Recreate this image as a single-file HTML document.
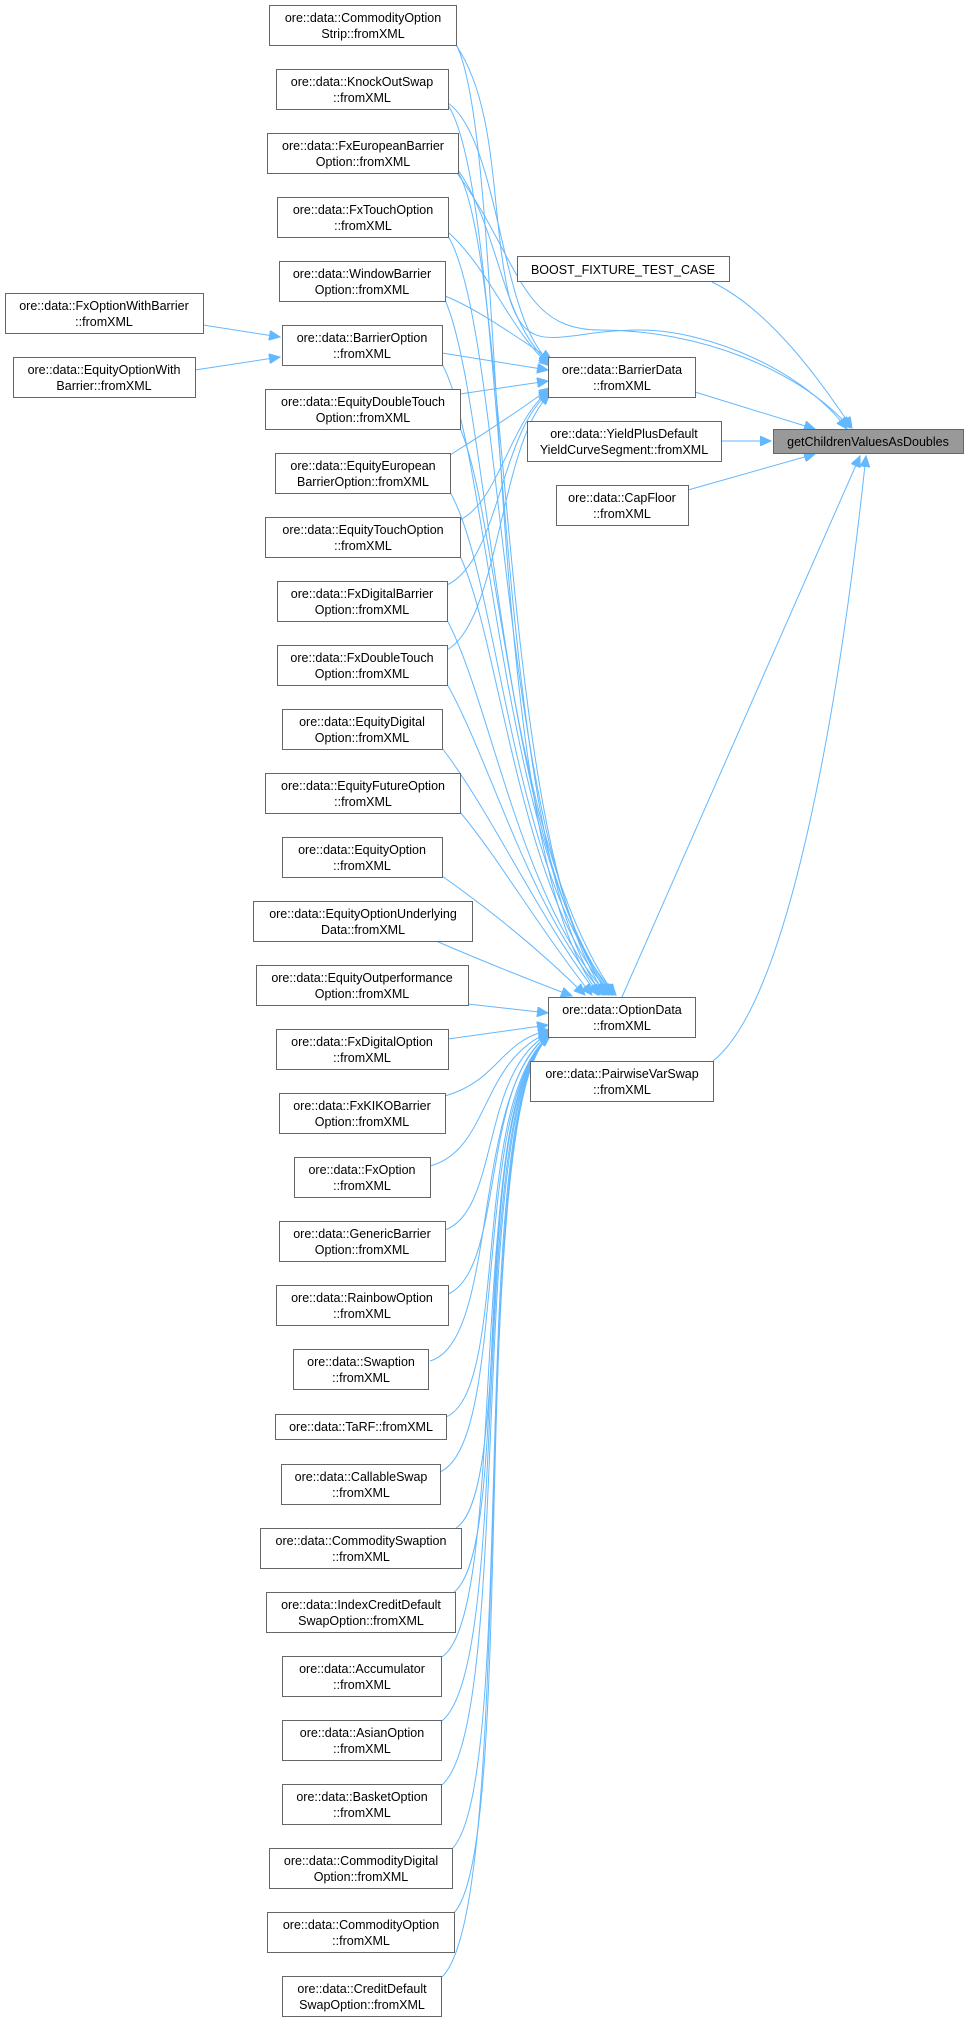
<!DOCTYPE html>
<html><head><meta charset="utf-8"><style>
html,body{margin:0;padding:0;background:#fff;}
svg{display:block;}
text{font-family:"Liberation Sans",Arial,sans-serif;font-size:12.5px;fill:#000;text-anchor:middle;}
.b{fill:#fff;stroke:#666;stroke-width:1;}
.e{fill:none;stroke:#63b8ff;stroke-width:1;}
</style></head><body>
<svg width="969" height="2021" viewBox="0 0 969 2021" xmlns="http://www.w3.org/2000/svg">
<defs><marker id="a" markerUnits="userSpaceOnUse" markerWidth="12" markerHeight="10" refX="11" refY="5" orient="auto"><path d="M0,0 L11,5 L0,10 z" fill="#63b8ff" stroke="#63b8ff"/></marker></defs>
<g class="e" marker-end="url(#a)">
<path d="M695,392 L815,429"/>
<path d="M721,441 L771,441"/>
<path d="M688,490 L815,454"/>
<path d="M622,997 L860,456"/>
<path d="M713,1061 C790,1000 840,700 866,456"/>
<path d="M712,282 C770,310 820,380 852,428"/>
<path d="M457,173 C520,260 520,330 600,330 C700,330 800,370 850,428"/>
<path d="M456,45 C500,110 490,220 510,300 C530,360 560,330 640,330 C710,330 805,372 847,429"/>
<path d="M203,325 L280,337"/>
<path d="M195,370 L280,357"/>
<path d="M448,103 C500,140 500,320 550,362"/>
<path d="M458,170 C500,230 500,320 550,364"/>
<path d="M448,232 C490,270 510,330 550,366"/>
<path d="M445,296 C480,310 520,340 552,360"/>
<path d="M442,353 L548,370"/>
<path d="M460,394 L548,381"/>
<path d="M450,455 C490,430 520,410 550,388"/>
<path d="M460,520 C500,500 510,420 550,390"/>
<path d="M447,585 C500,560 500,430 550,392"/>
<path d="M447,650 C500,620 500,440 550,394"/>
<path d="M456,44 C510,150 480,850 600,995"/>
<path d="M448,105 C510,200 490,850 603,995"/>
<path d="M458,172 C510,260 500,850 606,995"/>
<path d="M448,236 C505,330 500,850 609,995"/>
<path d="M445,300 C490,400 500,850 611,995"/>
<path d="M442,364 C490,450 500,850 613,995"/>
<path d="M460,428 C500,520 510,850 615,995"/>
<path d="M450,492 C500,580 510,880 616,995"/>
<path d="M460,556 C500,640 520,900 612,995"/>
<path d="M447,620 C490,700 520,900 608,995"/>
<path d="M447,684 C490,760 530,910 604,995"/>
<path d="M442,748 C490,810 540,920 598,995"/>
<path d="M460,812 C500,860 540,930 592,995"/>
<path d="M442,876 C490,910 540,950 585,995"/>
<path d="M436,941 C480,960 530,980 572,996"/>
<path d="M468,1004 L548,1013"/>
<path d="M448,1039 L548,1025"/>
<path d="M445,1096 C500,1080 500,1040 550,1030"/>
<path d="M430,1166 C490,1150 480,1060 550,1032"/>
<path d="M445,1230 C500,1210 480,1070 550,1033"/>
<path d="M448,1294 C505,1270 480,1080 550,1034"/>
<path d="M430,1361 C500,1340 470,1090 550,1034"/>
<path d="M446,1417 C510,1390 470,1100 550,1035"/>
<path d="M440,1472 C510,1440 470,1100 550,1035"/>
<path d="M456,1528 C515,1490 470,1100 550,1035"/>
<path d="M453,1593 C515,1550 465,1100 550,1036"/>
<path d="M442,1657 C510,1610 465,1100 550,1036"/>
<path d="M442,1721 C515,1660 465,1100 550,1036"/>
<path d="M442,1785 C515,1720 465,1100 550,1036"/>
<path d="M452,1849 C520,1780 465,1100 550,1036"/>
<path d="M454,1913 C520,1840 465,1100 550,1036"/>
<path d="M442,1977 C520,1900 465,1100 550,1036"/>
</g>
<g>
<rect class="b" x="773.5" y="429.5" width="190" height="24" style="fill:#999"/><text x="868" y="446">getChildrenValuesAsDoubles</text>
<rect class="b" x="517.5" y="256.5" width="212" height="25"/><text x="623" y="274">BOOST_FIXTURE_TEST_CASE</text>
<rect class="b" x="548.5" y="357.5" width="147" height="40"/><text x="622" y="374">ore::data::BarrierData</text><text x="622" y="390">::fromXML</text>
<rect class="b" x="527.5" y="421.5" width="194" height="40"/><text x="624" y="438">ore::data::YieldPlusDefault</text><text x="624" y="454">YieldCurveSegment::fromXML</text>
<rect class="b" x="556.5" y="485.5" width="132" height="40"/><text x="622" y="502">ore::data::CapFloor</text><text x="622" y="518">::fromXML</text>
<rect class="b" x="548.5" y="997.5" width="147" height="40"/><text x="622" y="1014">ore::data::OptionData</text><text x="622" y="1030">::fromXML</text>
<rect class="b" x="530.5" y="1061.5" width="183" height="40"/><text x="622" y="1078">ore::data::PairwiseVarSwap</text><text x="622" y="1094">::fromXML</text>
<rect class="b" x="5.5" y="293.5" width="198" height="40"/><text x="104" y="310">ore::data::FxOptionWithBarrier</text><text x="104" y="326">::fromXML</text>
<rect class="b" x="13.5" y="357.5" width="182" height="40"/><text x="104" y="374">ore::data::EquityOptionWith</text><text x="104" y="390">Barrier::fromXML</text>

<rect class="b" x="269.5" y="5.5" width="187" height="40"/><text x="363" y="22">ore::data::CommodityOption</text><text x="363" y="38">Strip::fromXML</text>
<rect class="b" x="276.5" y="69.5" width="172" height="40"/><text x="362" y="86">ore::data::KnockOutSwap</text><text x="362" y="102">::fromXML</text>
<rect class="b" x="267.5" y="133.5" width="191" height="40"/><text x="363" y="150">ore::data::FxEuropeanBarrier</text><text x="363" y="166">Option::fromXML</text>
<rect class="b" x="277.5" y="197.5" width="171" height="40"/><text x="363" y="214">ore::data::FxTouchOption</text><text x="363" y="230">::fromXML</text>
<rect class="b" x="279.5" y="261.5" width="166" height="40"/><text x="362" y="278">ore::data::WindowBarrier</text><text x="362" y="294">Option::fromXML</text>
<rect class="b" x="282.5" y="325.5" width="160" height="40"/><text x="362" y="342">ore::data::BarrierOption</text><text x="362" y="358">::fromXML</text>
<rect class="b" x="265.5" y="389.5" width="195" height="40"/><text x="363" y="406">ore::data::EquityDoubleTouch</text><text x="363" y="422">Option::fromXML</text>
<rect class="b" x="275.5" y="453.5" width="175" height="40"/><text x="363" y="470">ore::data::EquityEuropean</text><text x="363" y="486">BarrierOption::fromXML</text>
<rect class="b" x="265.5" y="517.5" width="195" height="40"/><text x="363" y="534">ore::data::EquityTouchOption</text><text x="363" y="550">::fromXML</text>
<rect class="b" x="277.5" y="581.5" width="170" height="40"/><text x="362" y="598">ore::data::FxDigitalBarrier</text><text x="362" y="614">Option::fromXML</text>
<rect class="b" x="277.5" y="645.5" width="170" height="40"/><text x="362" y="662">ore::data::FxDoubleTouch</text><text x="362" y="678">Option::fromXML</text>
<rect class="b" x="282.5" y="709.5" width="160" height="40"/><text x="362" y="726">ore::data::EquityDigital</text><text x="362" y="742">Option::fromXML</text>
<rect class="b" x="265.5" y="773.5" width="195" height="40"/><text x="363" y="790">ore::data::EquityFutureOption</text><text x="363" y="806">::fromXML</text>
<rect class="b" x="282.5" y="837.5" width="160" height="40"/><text x="362" y="854">ore::data::EquityOption</text><text x="362" y="870">::fromXML</text>
<rect class="b" x="253.5" y="901.5" width="219" height="40"/><text x="363" y="918">ore::data::EquityOptionUnderlying</text><text x="363" y="934">Data::fromXML</text>
<rect class="b" x="256.5" y="965.5" width="212" height="40"/><text x="362" y="982">ore::data::EquityOutperformance</text><text x="362" y="998">Option::fromXML</text>
<rect class="b" x="276.5" y="1029.5" width="172" height="40"/><text x="362" y="1046">ore::data::FxDigitalOption</text><text x="362" y="1062">::fromXML</text>
<rect class="b" x="279.5" y="1093.5" width="166" height="40"/><text x="362" y="1110">ore::data::FxKIKOBarrier</text><text x="362" y="1126">Option::fromXML</text>
<rect class="b" x="294.5" y="1157.5" width="136" height="40"/><text x="362" y="1174">ore::data::FxOption</text><text x="362" y="1190">::fromXML</text>
<rect class="b" x="279.5" y="1221.5" width="166" height="40"/><text x="362" y="1238">ore::data::GenericBarrier</text><text x="362" y="1254">Option::fromXML</text>
<rect class="b" x="276.5" y="1285.5" width="172" height="40"/><text x="362" y="1302">ore::data::RainbowOption</text><text x="362" y="1318">::fromXML</text>
<rect class="b" x="293.5" y="1349.5" width="135" height="40"/><text x="361" y="1366">ore::data::Swaption</text><text x="361" y="1382">::fromXML</text>
<rect class="b" x="275.5" y="1414.5" width="171" height="25"/><text x="361" y="1431">ore::data::TaRF::fromXML</text>
<rect class="b" x="281.5" y="1464.5" width="159" height="40"/><text x="361" y="1481">ore::data::CallableSwap</text><text x="361" y="1497">::fromXML</text>
<rect class="b" x="260.5" y="1528.5" width="201" height="40"/><text x="361" y="1545">ore::data::CommoditySwaption</text><text x="361" y="1561">::fromXML</text>
<rect class="b" x="266.5" y="1592.5" width="189" height="40"/><text x="361" y="1609">ore::data::IndexCreditDefault</text><text x="361" y="1625">SwapOption::fromXML</text>
<rect class="b" x="282.5" y="1656.5" width="159" height="40"/><text x="362" y="1673">ore::data::Accumulator</text><text x="362" y="1689">::fromXML</text>
<rect class="b" x="282.5" y="1720.5" width="159" height="40"/><text x="362" y="1737">ore::data::AsianOption</text><text x="362" y="1753">::fromXML</text>
<rect class="b" x="282.5" y="1784.5" width="159" height="40"/><text x="362" y="1801">ore::data::BasketOption</text><text x="362" y="1817">::fromXML</text>
<rect class="b" x="269.5" y="1848.5" width="183" height="40"/><text x="361" y="1865">ore::data::CommodityDigital</text><text x="361" y="1881">Option::fromXML</text>
<rect class="b" x="267.5" y="1912.5" width="187" height="40"/><text x="361" y="1929">ore::data::CommodityOption</text><text x="361" y="1945">::fromXML</text>
<rect class="b" x="282.5" y="1976.5" width="159" height="40"/><text x="362" y="1993">ore::data::CreditDefault</text><text x="362" y="2009">SwapOption::fromXML</text>
</g>
</svg>
</body></html>
